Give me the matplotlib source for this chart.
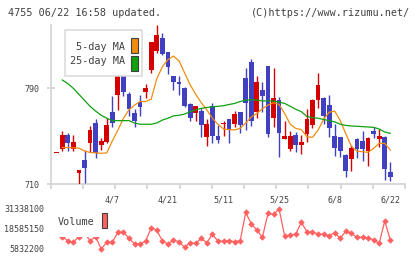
"""Candlestick chart with 5/25-day moving averages and volume panel."""

import matplotlib
matplotlib.use("Agg")
import matplotlib.pyplot as plt
import numpy as np
from matplotlib.patches import Rectangle
from matplotlib.transforms import Affine2D

W, H = 420, 259

title = "4755 06/22 16:58 updated."
credit = "(C)https://www.rizumu.net/"

date_labels = ["4/7", "4/21", "5/11", "5/25", "6/8", "6/22"]
date_index = [10, 20, 30, 40, 50, 60]
price_ticks = [710, 790]
vol_ticks = [5832200, 18585150, 31338100]

opens = [736, 739, 751, 739.5, 719.5, 730, 744, 761, 742.4, 745,
         770, 784.4, 805, 785, 769, 779, 787, 805, 821, 832,
         820, 800, 795.5, 790, 777, 769.6, 771, 749.5, 775, 750,
         760, 764, 760, 770, 799, 812, 770, 789, 809, 765,
         780, 748, 739, 751, 742.6, 752, 759, 780, 782, 776,
         750, 749, 734, 731, 748, 746, 737.6, 754, 747.6, 749.5,
         720]
highs = [736, 754, 753, 751, 721.7, 738.5, 758.5, 764, 748.7, 765,
         783.6, 804, 805.5, 787, 772.5, 784.4, 793.6, 828.5, 843, 836,
         820, 800.3, 800.3, 791, 777.4, 775.5, 773.3, 764.3, 778, 759.3,
         763, 764.5, 771.3, 770, 807.3, 814.5, 800.3, 795.3, 809, 807.3,
         783, 763, 754.3, 753.2, 751, 772.7, 781, 803, 782.5, 784.4,
         760.2, 749.5, 735.1, 742.6, 748.7, 754.3, 749, 757.4, 755.7, 750,
         728.6]
lows = [736, 738, 738, 737.5, 709, 711, 737, 731.5, 738.3, 744,
        758, 772, 783.6, 767, 758, 767, 782, 802.6, 819.3, 818,
        802, 788.6, 784.4, 774, 763, 762.7, 749.5, 741.7, 744.5, 744.5,
        750, 744.5, 757.4, 752.4, 755.2, 758.5, 765, 770.5, 749.5, 758,
        732.8, 747.4, 737.6, 737, 735, 745.4, 757, 773.3, 760.2, 749.5,
        733.4, 732.8, 716.1, 721.1, 731.5, 729.5, 725.3, 748.2, 741.2, 713.4,
        712.5]
closes = [736, 751, 744, 745, 721.7, 723, 755, 736, 746, 759,
          761, 803, 787, 773, 763, 774, 790, 828.5, 834.6, 819,
          808, 795, 794, 775, 765, 775.2, 759, 760, 750, 747,
          761, 755, 768.5, 759, 778, 763, 795, 784, 752, 782,
          753, 750, 750, 743, 745, 764, 780, 793, 767, 757,
          740, 738, 721, 740, 739, 739, 748.7, 752, 750, 722.6,
          716]

# moving averages, from the second candle on
ma5 = [740.5, 740.5, 740.3, 740, 737.6, 736.4, 736, 735.7, 736,
       746, 755, 765, 772, 776, 779, 779, 781, 798, 808,
       814, 817, 813, 803, 793, 785, 778, 772, 765, 760,
       756, 755.5, 755.2, 756.5, 761, 766, 769, 773, 776, 778,
       776.5, 769, 760, 756.5, 755.5, 749.5, 749, 755, 764, 770,
       771, 763, 752, 741.5, 737.5, 737, 736.5, 739.8, 744, 744,
       738.4]
ma25 = [797, 794, 790, 785, 780, 775, 771, 767.5, 765,
        763, 763, 763, 763, 761, 760, 760, 760, 761, 763.5,
        765, 767, 767.5, 768.5, 770.5, 772, 773.3, 774, 774.5, 775,
        775.5, 776.5, 777.4, 779, 780.2, 780.5, 780.2, 779.5, 779.5, 779.4,
        778.5, 777.4, 775, 772.5, 770.5, 766.5, 765.5, 765, 764, 763,
        762, 760, 759, 758.5, 758.3, 758, 757.7, 757.4, 756, 753.5,
        752.4]

volume = [np.nan, 13.8e6, 10.9e6, 10.1e6, 13.8e6, 16.0e6, 11.1e6, 13.8e6, 5832200, 10.1e6,
          10.1e6, 16.5e6, 16.5e6, 12.6e6, 9.0e6, 9.0e6, 10.9e6, 19.4e6, 17.9e6, 10.9e6,
          9.0e6, 11.6e6, 10.5e6, 6.9e6, 9.85e6, 9.45e6, 12.6e6, 9.85e6, 15.2e6, 10.9e6,
          10.9e6, 11.1e6, 10.5e6, 11.1e6, 29.2e6, 21.8e6, 17.9e6, 13.3e6, 28.6e6, 27.9e6,
          31338100, 14.1e6, 14.8e6, 15.4e6, 22.9e6, 16.9e6, 16.5e6, 15.4e6, 15.2e6, 14.3e6,
          16.2e6, 12.6e6, 17.3e6, 15.8e6, 13.3e6, 13.3e6, 13.0e6, 11.6e6, 9.45e6, 23.7e6,
          11.6e6]

RED = "#d40000"
BLUE = "#4040c0"
ORANGE = "#f08c10"
GREEN = "#10a010"
VOL = "#ff6060"
GRID = "#d8d8d8"
TEXT = "#404040"
FONT = "DejaVu Sans Mono"

fig = plt.figure(figsize=(W / 100, H / 100), dpi=100)
px = Affine2D().scale(1 / W, -1 / H).translate(0, 1) + fig.transFigure


def frac(x0, y0, x1, y1):
    return [x0 / W, 1 - y1 / H, (x1 - x0) / W, (y1 - y0) / H]


ax = fig.add_axes(frac(50.7, 25, 405, 184))
vax = fig.add_axes(frac(50.7, 205, 405, 253))

idx = np.arange(len(closes))
slot = 5.56
xlim = ((50.7 - 56.7) / slot, (405 - 56.7) / slot)

# price panel
o = np.array(opens)
c = np.array(closes)
up = c >= o
colors = np.where(up, RED, BLUE)
ax.vlines(idx, lows, highs, colors=colors, linewidth=1.0, zorder=3)
body_lo = np.minimum(o, c)
body_h = np.maximum(np.abs(c - o), 0.9)
ax.bar(idx, body_h, bottom=body_lo, width=0.85, color=colors, linewidth=0, zorder=3)

ax.plot(idx[1:], ma5, color=ORANGE, linewidth=0.9, zorder=4)
ax.plot(idx[1:], ma25, color=GREEN, linewidth=0.9, zorder=4)

ax.set_xlim(*xlim)
ax.set_ylim(710, 843)
for side in ("top", "right"):
    ax.spines[side].set_visible(False)
for side in ("left", "bottom"):
    ax.spines[side].set_color(GRID)
    ax.spines[side].set_linewidth(1.4)
ax.set_yticks(price_ticks)
ax.set_yticklabels([str(t) for t in price_ticks])
ax.tick_params(axis="y", direction="inout", length=5.8, width=1.4, color=GRID,
               labelsize=6, labelcolor=TEXT, pad=5.5)
ax.set_xticks(date_index)
ax.set_xticklabels(date_labels)
ax.set_xticks(np.linspace(xlim[0], xlim[1], 12), minor=True)
ax.tick_params(axis="x", which="major", length=0, labelsize=6, labelcolor=TEXT, pad=8)
ax.tick_params(axis="x", which="minor", length=3.6, width=1.4, color=GRID)
for lab in ax.get_xticklabels() + ax.get_yticklabels():
    lab.set_fontfamily(FONT)

# legend box (drawn behind the candles)
fig.patches.append(Rectangle((65, 29.5), 77, 46, transform=px, facecolor="white",
                             edgecolor=GRID, linewidth=1.1, zorder=0))
ax.patch.set_alpha(0)
fig.text(125, 46.5, "5-day MA", transform=px, ha="right", va="center",
         fontsize=7.3, color=TEXT, family=FONT)
fig.text(125, 61, "25-day MA", transform=px, ha="right", va="center",
         fontsize=7.3, color=TEXT, family=FONT)
fig.patches.append(Rectangle((131, 37.5), 6.5, 15.5, transform=px, facecolor=ORANGE,
                             edgecolor="#404040", linewidth=0.8))
fig.patches.append(Rectangle((131, 55.5), 6.5, 15.5, transform=px, facecolor=GREEN,
                             edgecolor="#404040", linewidth=0.8))

# volume panel
vol_span = (vol_ticks[2] - vol_ticks[0]) / 40.0
vax.plot(idx, volume, color=VOL, linewidth=0.9, marker="D", markersize=3.3,
         markeredgewidth=0, zorder=2)
vax.set_xlim(*xlim)
vax.set_ylim(vol_ticks[0] - 4 * vol_span, vol_ticks[2] + 4 * vol_span)
for side in vax.spines.values():
    side.set_visible(False)
vax.patch.set_alpha(0)
vax.set_xticks([])
vax.set_yticks(vol_ticks)
vax.set_yticklabels([str(t) for t in vol_ticks])
vax.tick_params(axis="y", length=0, labelsize=6, labelcolor=TEXT, pad=4.8)
for lab in vax.get_yticklabels():
    lab.set_fontfamily(FONT)

# the volume legend sits on a white patch that hides the line beneath it
vax.add_patch(Rectangle((52, 200), 58, 37.3, transform=px, facecolor="white",
                        edgecolor="none", zorder=5))
vax.text(58, 222, "Volume", transform=px, ha="left", va="center",
         fontsize=7.3, color=TEXT, family=FONT, zorder=6)
vax.add_patch(Rectangle((101.7, 213.3), 5.6, 15, transform=px, facecolor=VOL,
                        edgecolor="#404040", linewidth=0.8, zorder=6))

fig.text(8, 13, title, transform=px, ha="left", va="center",
         fontsize=7.3, color=TEXT, family=FONT)
fig.text(410, 13, credit, transform=px, ha="right", va="center",
         fontsize=7.3, color=TEXT, family=FONT)

fig.savefig("out.png", dpi=100)
